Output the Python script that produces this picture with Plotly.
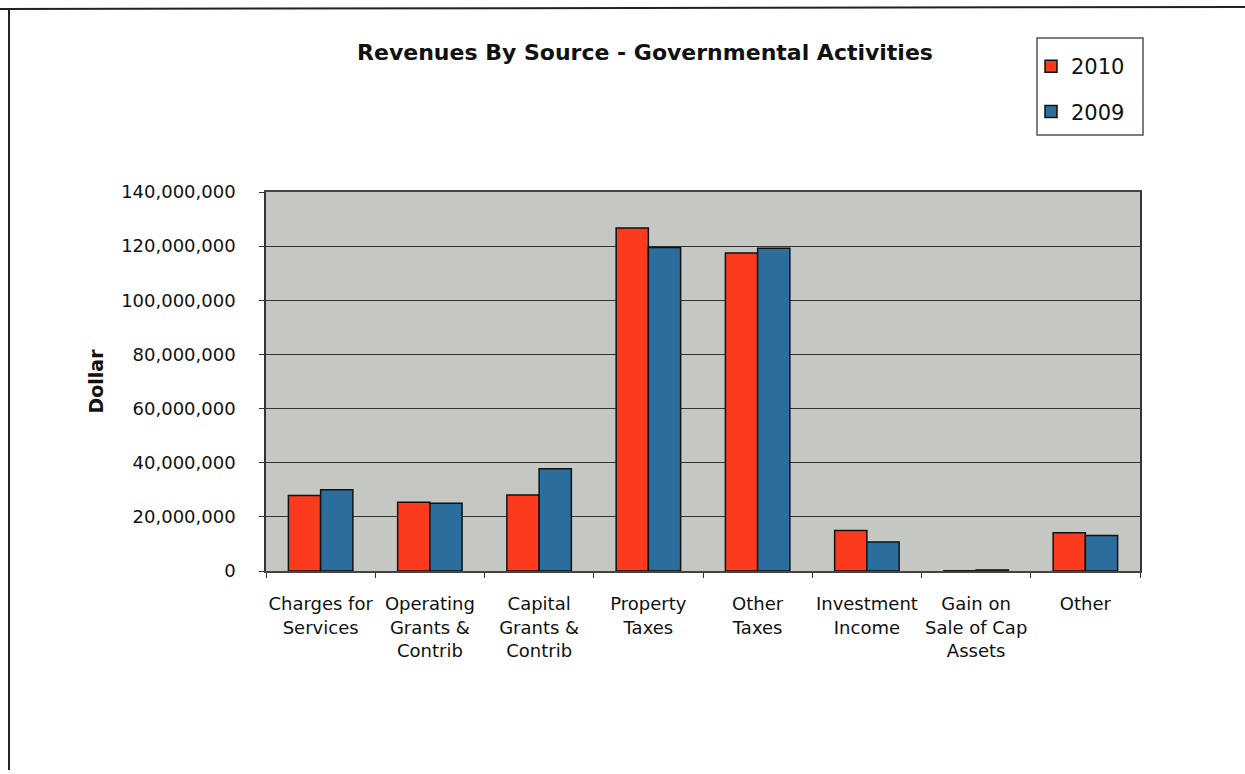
import plotly.graph_objects as go

# Revenue sources (category labels wrap onto several lines)
categories = [
    "Charges for<br>Services",
    "Operating<br>Grants &<br>Contrib",
    "Capital<br>Grants &<br>Contrib",
    "Property<br>Taxes",
    "Other<br>Taxes",
    "Investment<br>Income",
    "Gain on<br>Sale of Cap<br>Assets",
    "Other",
]
rev_2010 = [27_900_000, 25_400_000, 28_100_000, 126_700_000, 117_500_000, 15_000_000, 100_000, 14_100_000]
rev_2009 = [30_000_000, 25_000_000, 37_800_000, 119_500_000, 119_200_000, 10_700_000, 400_000, 13_100_000]
y_ticks = [0, 20_000_000, 40_000_000, 60_000_000, 80_000_000, 100_000_000, 120_000_000, 140_000_000]

W, H = 1245, 774
L, R, T, B = 266, 105, 192, 203
pw, ph = W - L - R, H - T - B


def px_x(x):
    return (x - L) / pw


def px_y(y):
    return (H - B - y) / ph


FONT = "DejaVu Sans, Liberation Sans, Arial, sans-serif"
INK = "#111111"

fig = go.Figure()
fig.add_trace(go.Bar(
    name="2010", x=categories, y=rev_2010, legendgroup="a",
    marker=dict(color="#fb3a1e", line=dict(color=INK, width=1.5)),
))
fig.add_trace(go.Bar(
    name="2009", x=categories, y=rev_2009, legendgroup="b",
    marker=dict(color="#2b6e9e", line=dict(color=INK, width=1.5)),
))

fig.update_layout(
    width=W, height=H,
    margin=dict(l=L, r=R, t=T, b=B),
    paper_bgcolor="white",
    plot_bgcolor="#c5c7c3",
    barmode="group",
    bargap=0.41,
    bargroupgap=0,
    font=dict(family=FONT, size=18, color=INK),
    title=dict(
        text="<b>Revenues By Source - Governmental Activities</b>",
        x=px_x(645), xref="paper", xanchor="center",
        y=1 - 52 / H, yref="container", yanchor="middle",
        font=dict(family=FONT, size=22, color=INK),
    ),
    legend=dict(
        x=px_x(1031), y=px_y(46), xanchor="left", yanchor="top",
        bgcolor="rgba(0,0,0,0)", borderwidth=0,
        font=dict(family=FONT, size=21, color=INK),
        tracegroupgap=15,
        itemwidth=30,
    ),
    xaxis=dict(
        showgrid=False, tickangle=0,
        ticks="outside", tickson="boundaries", ticklen=5, tickcolor="#333333",
        showline=True, linecolor="#444444", linewidth=1.5, mirror=True,
        tickfont=dict(family=FONT, size=18, color=INK),
        ticklabelstandoff=16,
    ),
    yaxis=dict(
        range=[0, 140_000_000],
        tickvals=y_ticks, tickformat=",d",
        showgrid=True, gridcolor="#333333", gridwidth=1,
        ticks="outside", ticklen=5, tickcolor="#333333",
        showline=True, linecolor="#333333", linewidth=1.5, mirror=True,
        zeroline=False,
        tickfont=dict(family=FONT, size=18, color=INK),
        ticklabelstandoff=20,
        title=dict(text="<b>Dollar</b>", font=dict(family=FONT, size=19, color=INK), standoff=12),
    ),
    shapes=[
        # page frame: top rule and left rule
        dict(type="line", xref="paper", yref="paper",
             x0=px_x(0), x1=px_x(W), y0=px_y(9), y1=px_y(7),
             line=dict(color="#222222", width=2)),
        dict(type="line", xref="paper", yref="paper",
             x0=px_x(9), x1=px_x(9), y0=px_y(8), y1=px_y(770),
             line=dict(color="#222222", width=2)),
        # legend box
        dict(type="rect", xref="paper", yref="paper",
             x0=px_x(1037), x1=px_x(1143), y0=px_y(135), y1=px_y(38),
             fillcolor="white", line=dict(color="#555555", width=1.5)),
    ],
)

fig.write_html("out.html")
